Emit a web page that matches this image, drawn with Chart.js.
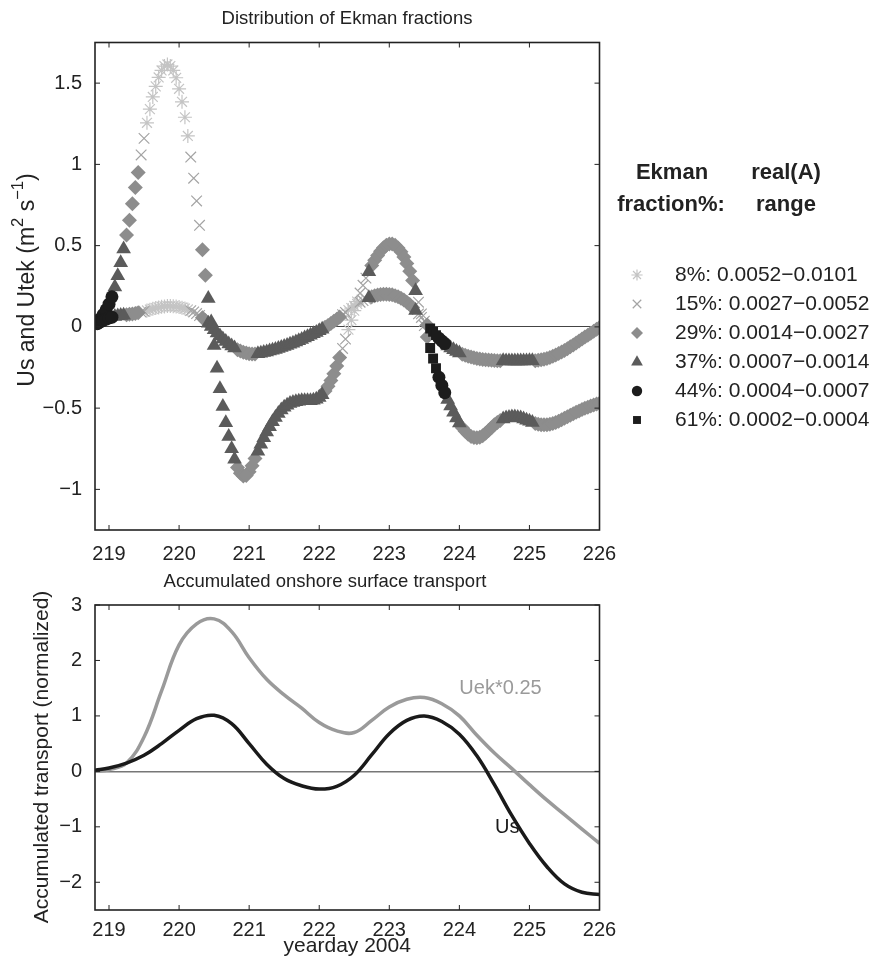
<!DOCTYPE html>
<html lang="en">
<head>
<meta charset="UTF-8">
<title>Distribution of Ekman fractions</title>
<style>
    body { margin: 0; background: #fff; }
    .wrap { position: relative; width: 873px; height: 967px; }
    #top { position: absolute; left: 0; top: 0; }
    #bot { position: absolute; left: 0; top: 565px; }
</style>
</head>
<body>
<div class="wrap">
    <canvas id="top" width="873" height="565"></canvas>
    <canvas id="bot" width="873" height="402"></canvas>
</div>
<script src="https://cdn.jsdelivr.net/npm/chart.js"></script>
<script>
    // hourly samples, first one at yearday 218 + 20h
    const sampleStart = 218 + 20 / 24;
    const sampleStep = 1 / 24;

    // large-amplitude curve (Utek)
    const uekVals = [
        0.03, 0.05, 0.075, 0.105, 0.14, 0.185, 0.245, 0.315, 0.395, 0.48,
        0.566, 0.656, 0.758, 0.857, 0.95, 1.058, 1.16, 1.256, 1.34, 1.415,
        1.48, 1.535, 1.578, 1.605, 1.615, 1.605, 1.578, 1.533, 1.465, 1.385,
        1.29, 1.175, 1.045, 0.915, 0.775, 0.625, 0.474, 0.318, 0.175, 0.03,
        -0.115, -0.255, -0.38, -0.49, -0.59, -0.675, -0.75, -0.815, -0.865, -0.9,
        -0.918, -0.915, -0.892, -0.855, -0.81, -0.765, -0.722, -0.683, -0.647, -0.614,
        -0.584, -0.557, -0.533, -0.512, -0.495, -0.482, -0.472, -0.465, -0.46, -0.457,
        -0.455, -0.455, -0.455, -0.454, -0.451, -0.445, -0.434, -0.418, -0.395, -0.366,
        -0.33, -0.288, -0.24, -0.188, -0.133, -0.075, -0.017, 0.042, 0.1, 0.156,
        0.208, 0.256, 0.3, 0.34, 0.377, 0.41, 0.44, 0.466, 0.487, 0.502,
        0.51, 0.51, 0.502, 0.486, 0.462, 0.43, 0.39, 0.342, 0.286, 0.222,
        0.152, 0.08, 0.008, -0.062, -0.13, -0.195, -0.255, -0.31, -0.36, -0.405,
        -0.447, -0.487, -0.525, -0.56, -0.592, -0.62, -0.643, -0.661, -0.674, -0.681,
        -0.683, -0.679, -0.67, -0.655, -0.638, -0.62, -0.603, -0.588, -0.576, -0.567,
        -0.561, -0.557, -0.555, -0.555, -0.557, -0.561, -0.567, -0.574, -0.581, -0.588,
        -0.594, -0.599, -0.602, -0.603, -0.602, -0.599, -0.594, -0.588, -0.58, -0.571,
        -0.562, -0.553, -0.544, -0.535, -0.526, -0.517, -0.509, -0.501, -0.494, -0.487,
        -0.481, -0.475, -0.47
    ];

    // small-amplitude curve (Us)
    const usVals = [
        0.02, 0.03, 0.04, 0.048, 0.055, 0.06, 0.064, 0.067, 0.07, 0.072,
        0.074, 0.077, 0.08, 0.083, 0.087, 0.091, 0.096, 0.101, 0.106, 0.111,
        0.116, 0.12, 0.124, 0.126, 0.128, 0.128, 0.127, 0.125, 0.122, 0.118,
        0.113, 0.107, 0.1, 0.092, 0.082, 0.07, 0.056, 0.04, 0.022, 0.003,
        -0.017, -0.037, -0.056, -0.074, -0.09, -0.105, -0.118, -0.13, -0.14, -0.149,
        -0.156, -0.161, -0.165, -0.167, -0.167, -0.165, -0.162, -0.158, -0.154, -0.149,
        -0.144, -0.139, -0.133, -0.127, -0.121, -0.114, -0.107, -0.1, -0.093, -0.085,
        -0.077, -0.069, -0.061, -0.052, -0.043, -0.034, -0.024, -0.014, -0.003, 0.009,
        0.021, 0.034, 0.047, 0.061, 0.075, 0.089, 0.103, 0.116, 0.129, 0.141,
        0.152, 0.162, 0.171, 0.179, 0.186, 0.192, 0.196, 0.199, 0.201, 0.201,
        0.2, 0.197, 0.192, 0.185, 0.176, 0.165, 0.152, 0.137, 0.12, 0.101,
        0.08, 0.058, 0.035, 0.012, -0.01, -0.031, -0.051, -0.07, -0.087, -0.103,
        -0.117, -0.13, -0.141, -0.151, -0.16, -0.168, -0.175, -0.181, -0.186, -0.19,
        -0.194, -0.197, -0.2, -0.202, -0.204, -0.206, -0.207, -0.208, -0.209, -0.209,
        -0.21, -0.21, -0.21, -0.21, -0.21, -0.21, -0.21, -0.21, -0.209, -0.209,
        -0.208, -0.206, -0.203, -0.199, -0.194, -0.188, -0.181, -0.173, -0.164, -0.155,
        -0.145, -0.134, -0.123, -0.111, -0.099, -0.087, -0.075, -0.063, -0.051, -0.039,
        -0.027, -0.015, -0.004
    ];

    // Ekman fraction class of each sample (0 = 8% ... 5 = 61%)
    const fracClass = (
        '4444443333222221100000000000000011112233333333332222222' +
        '33333333333333333333333222222110000111322222222222222231112555444' +
        '33333222222222222223333333333322222222222222222222222'
    ).split('').map(Number);

    const fracLabels = ['8%', '15%', '29%', '37%', '44%', '61%'];
    const rangeLo = ['0.0052', '0.0027', '0.0014', '0.0007', '0.0004', '0.0002'];
    const rangeHi = ['0.0101', '0.0052', '0.0027', '0.0014', '0.0007', '0.0004'];

    // accumulated onshore transport
    const accDays = [218.8, 219, 219.25, 219.5, 219.75, 220, 220.25, 220.5, 220.75, 221,
        221.25, 221.5, 221.75, 222, 222.25, 222.5, 222.75, 223, 223.25, 223.5,
        223.75, 224, 224.25, 224.5, 224.75, 225, 225.25, 225.5, 225.75, 226];
    const accUs = [0.02, 0.06, 0.15, 0.29, 0.5, 0.74, 0.95, 1.01, 0.86, 0.5,
        0.13, -0.13, -0.26, -0.32, -0.27, -0.07, 0.3, 0.68, 0.92, 1.0,
        0.9, 0.67, 0.28, -0.24, -0.8, -1.3, -1.72, -2.03, -2.18, -2.22];
    const accUek = [0.0, 0.03, 0.15, 0.62, 1.45, 2.28, 2.66, 2.75, 2.52, 2.05,
        1.66, 1.38, 1.14, 0.88, 0.73, 0.7, 0.92, 1.16, 1.3, 1.33,
        1.22, 1.0, 0.65, 0.33, 0.05, -0.24, -0.52, -0.78, -1.04, -1.3];

    const dayTicks = [219, 220, 221, 222, 223, 224, 225, 226];
    const topTicks = [-1, -0.5, 0, 0.5, 1, 1.5];
    const botTicks = [-2, -1, 0, 1, 2, 3];

    const FAMILY = '"Liberation Sans", Arial, Helvetica, sans-serif';
    const tickFont = { family: FAMILY, size: 20 };

    const markers = [
        { style: 'star', color: '#c4c4c4', r: 7, w: 1.2 },
        { style: 'crossRot', color: '#a4a4a4', r: 7.5, w: 1.2 },
        { style: 'rectRot', color: '#8d8d8d', r: 7.5, w: 0 },
        { style: 'triangle', color: '#5b5b5b', r: 8.5, w: 0 },
        { style: 'circle', color: '#1c1c1c', r: 6.5, w: 0 },
        { style: 'rect', color: '#1c1c1c', r: 7, w: 0 }
    ];

    const classSets = markers.map((m, c) => {
        const pts = [];
        fracClass.forEach((k, i) => {
            if (k !== c) return;
            const day = sampleStart + i * sampleStep;
            pts.push({ x: day, y: uekVals[i] }, { x: day, y: usVals[i] });
        });
        return {
            label: fracLabels[c],
            data: pts,
            pointStyle: m.style,
            pointRadius: m.r,
            pointHoverRadius: m.r,
            backgroundColor: m.color,
            borderColor: m.color,
            borderWidth: m.w,
            order: markers.length - c
        };
    });

    function dayAxis(h, pad) {
        return {
            type: 'linear',
            min: 218.8,
            max: 226,
            afterBuildTicks: s => { s.ticks = dayTicks.map(v => ({ value: v })); },
            afterFit: s => { s.height = h; },
            grid: { display: false },
            border: { display: false },
            ticks: { padding: pad, color: '#222', font: tickFont, maxRotation: 0, autoSkip: false }
        };
    }

    function valueAxis(min, max, vals, zeroColor, zeroWidth) {
        return {
            type: 'linear',
            min: min,
            max: max,
            afterBuildTicks: s => { s.ticks = vals.map(v => ({ value: v })); },
            afterFit: s => { s.width = 95; },
            grid: {
                drawTicks: false,
                color: c => (c.tick && c.tick.value === 0) ? zeroColor : 'rgba(0,0,0,0)',
                lineWidth: zeroWidth
            },
            border: { display: false },
            ticks: {
                padding: 13, color: '#222', font: tickFont, autoSkip: false,
                callback: v => String(v).replace('-', '\u2212')
            }
        };
    }

    // text with raised parts, centred on the current origin
    function drawParts(ctx, parts, size) {
        const sub = size * 0.72;
        let total = 0;
        parts.forEach(p => {
            ctx.font = (p.sup ? sub : size) + 'px ' + FAMILY;
            p.w = ctx.measureText(p.t).width;
            total += p.w;
        });
        let x = -total / 2;
        ctx.textAlign = 'left';
        parts.forEach(p => {
            ctx.font = (p.sup ? sub : size) + 'px ' + FAMILY;
            ctx.fillText(p.t, x, p.sup ? -size * 0.42 : 0);
            x += p.w;
        });
    }

    // MATLAB-like box with inward ticks, titles and notes
    const frame = {
        id: 'frame',
        afterDraw(chart, args, o) {
            const { ctx, chartArea: a } = chart;
            const x = chart.scales.x, y = chart.scales.y;
            ctx.save();
            ctx.strokeStyle = '#222';
            ctx.lineWidth = 1;
            ctx.beginPath();
            x.ticks.forEach(t => {
                const p = x.getPixelForValue(t.value);
                ctx.moveTo(p, a.bottom); ctx.lineTo(p, a.bottom - 5);
                ctx.moveTo(p, a.top); ctx.lineTo(p, a.top + 5);
            });
            y.ticks.forEach(t => {
                const p = y.getPixelForValue(t.value);
                ctx.moveTo(a.left, p); ctx.lineTo(a.left + 5, p);
                ctx.moveTo(a.right, p); ctx.lineTo(a.right - 5, p);
            });
            ctx.stroke();
            ctx.lineWidth = 1.6;
            ctx.strokeRect(a.left, a.top, a.right - a.left, a.bottom - a.top);

            ctx.fillStyle = '#222';
            ctx.textBaseline = 'middle';
            ctx.textAlign = 'center';
            ctx.font = '18.5px ' + FAMILY;
            ctx.fillText(o.title, o.titleX, o.titleY);
            if (o.xTitle) {
                ctx.font = '21px ' + FAMILY;
                ctx.fillText(o.xTitle, (a.left + a.right) / 2, o.xTitleY);
            }
            (o.notes || []).forEach(n => {
                ctx.font = '20px ' + FAMILY;
                ctx.textAlign = 'left';
                ctx.fillStyle = n.color;
                ctx.fillText(n.text, x.getPixelForValue(n.day), y.getPixelForValue(n.val));
            });
            ctx.fillStyle = '#222';
            ctx.translate(o.yTitleX, o.yTitleY);
            ctx.rotate(-Math.PI / 2);
            drawParts(ctx, o.yTitle, o.yTitleSize);
            ctx.restore();
        }
    };

    const fracLegend = {
        id: 'fracLegend',
        afterDraw(chart) {
            const ctx = chart.ctx;
            ctx.save();
            ctx.fillStyle = '#222';
            ctx.textBaseline = 'middle';
            ctx.textAlign = 'center';
            ctx.font = 'bold 22px ' + FAMILY;
            ctx.fillText('Ekman', 672, 173);
            ctx.fillText('real(A)', 786, 173);
            ctx.fillText('fraction%:', 671, 205);
            ctx.fillText('range', 786, 205);
            ctx.font = '21px ' + FAMILY;
            markers.forEach((m, k) => {
                const yy = 275 + 29 * k;
                ctx.fillStyle = m.color;
                ctx.strokeStyle = m.color;
                ctx.lineWidth = m.w;
                Chart.helpers.drawPoint(ctx, { pointStyle: m.style, radius: m.r * 0.8, borderWidth: m.w, rotation: 0 }, 637, yy);
                ctx.fillStyle = '#222';
                ctx.textAlign = 'left';
                ctx.fillText(fracLabels[k] + ': ' + rangeLo[k] + '\u2212' + rangeHi[k], 675, yy);
            });
            ctx.restore();
        }
    };

    new Chart(document.getElementById('top'), {
        type: 'scatter',
        data: { datasets: classSets },
        options: {
            responsive: false,
            animation: false,
            devicePixelRatio: 1,
            layout: { padding: { left: 0, right: 273.5, top: 42.5, bottom: 0 } },
            plugins: {
                legend: { display: false },
                tooltip: { enabled: false },
                frame: {
                    title: 'Distribution of Ekman fractions',
                    titleX: 347,
                    titleY: 19,
                    yTitleX: 28,
                    yTitleY: 280,
                    yTitleSize: 23,
                    yTitle: [
                        { t: 'Us and Utek (m' }, { t: '2', sup: true },
                        { t: ' s' }, { t: '\u22121', sup: true }, { t: ')' }
                    ]
                }
            },
            scales: {
                x: dayAxis(35, 4),
                y: valueAxis(-1.25, 1.75, topTicks, '#444', 1)
            }
        },
        plugins: [frame, fracLegend]
    });

    new Chart(document.getElementById('bot'), {
        type: 'line',
        data: {
            datasets: [
                {
                    label: 'Uek*0.25',
                    data: accDays.map((d, i) => ({ x: d, y: accUek[i] })),
                    borderColor: '#9a9a9a',
                    borderWidth: 3.5,
                    pointRadius: 0,
                    tension: 0.4,
                    order: 1
                },
                {
                    label: 'Us',
                    data: accDays.map((d, i) => ({ x: d, y: accUs[i] })),
                    borderColor: '#1a1a1a',
                    borderWidth: 3.5,
                    pointRadius: 0,
                    tension: 0.4,
                    order: 0
                }
            ]
        },
        options: {
            responsive: false,
            animation: false,
            devicePixelRatio: 1,
            layout: { padding: { left: 0, right: 273.5, top: 40, bottom: 0 } },
            plugins: {
                legend: { display: false },
                tooltip: { enabled: false },
                frame: {
                    title: 'Accumulated onshore surface transport',
                    titleX: 325,
                    titleY: 17,
                    xTitle: 'yearday 2004',
                    xTitleY: 381,
                    yTitleX: 42,
                    yTitleY: 192,
                    yTitleSize: 21,
                    yTitle: [{ t: 'Accumulated transport (normalized)' }],
                    notes: [
                        { text: 'Uek*0.25', day: 224.0, val: 1.5, color: '#9a9a9a' },
                        { text: 'Us', day: 224.51, val: -1.02, color: '#1a1a1a' }
                    ]
                }
            },
            scales: {
                x: dayAxis(57, 0),
                y: valueAxis(-2.5, 3, botTicks, '#777', 1.5)
            }
        },
        plugins: [frame]
    });
</script>
</body>
</html>
